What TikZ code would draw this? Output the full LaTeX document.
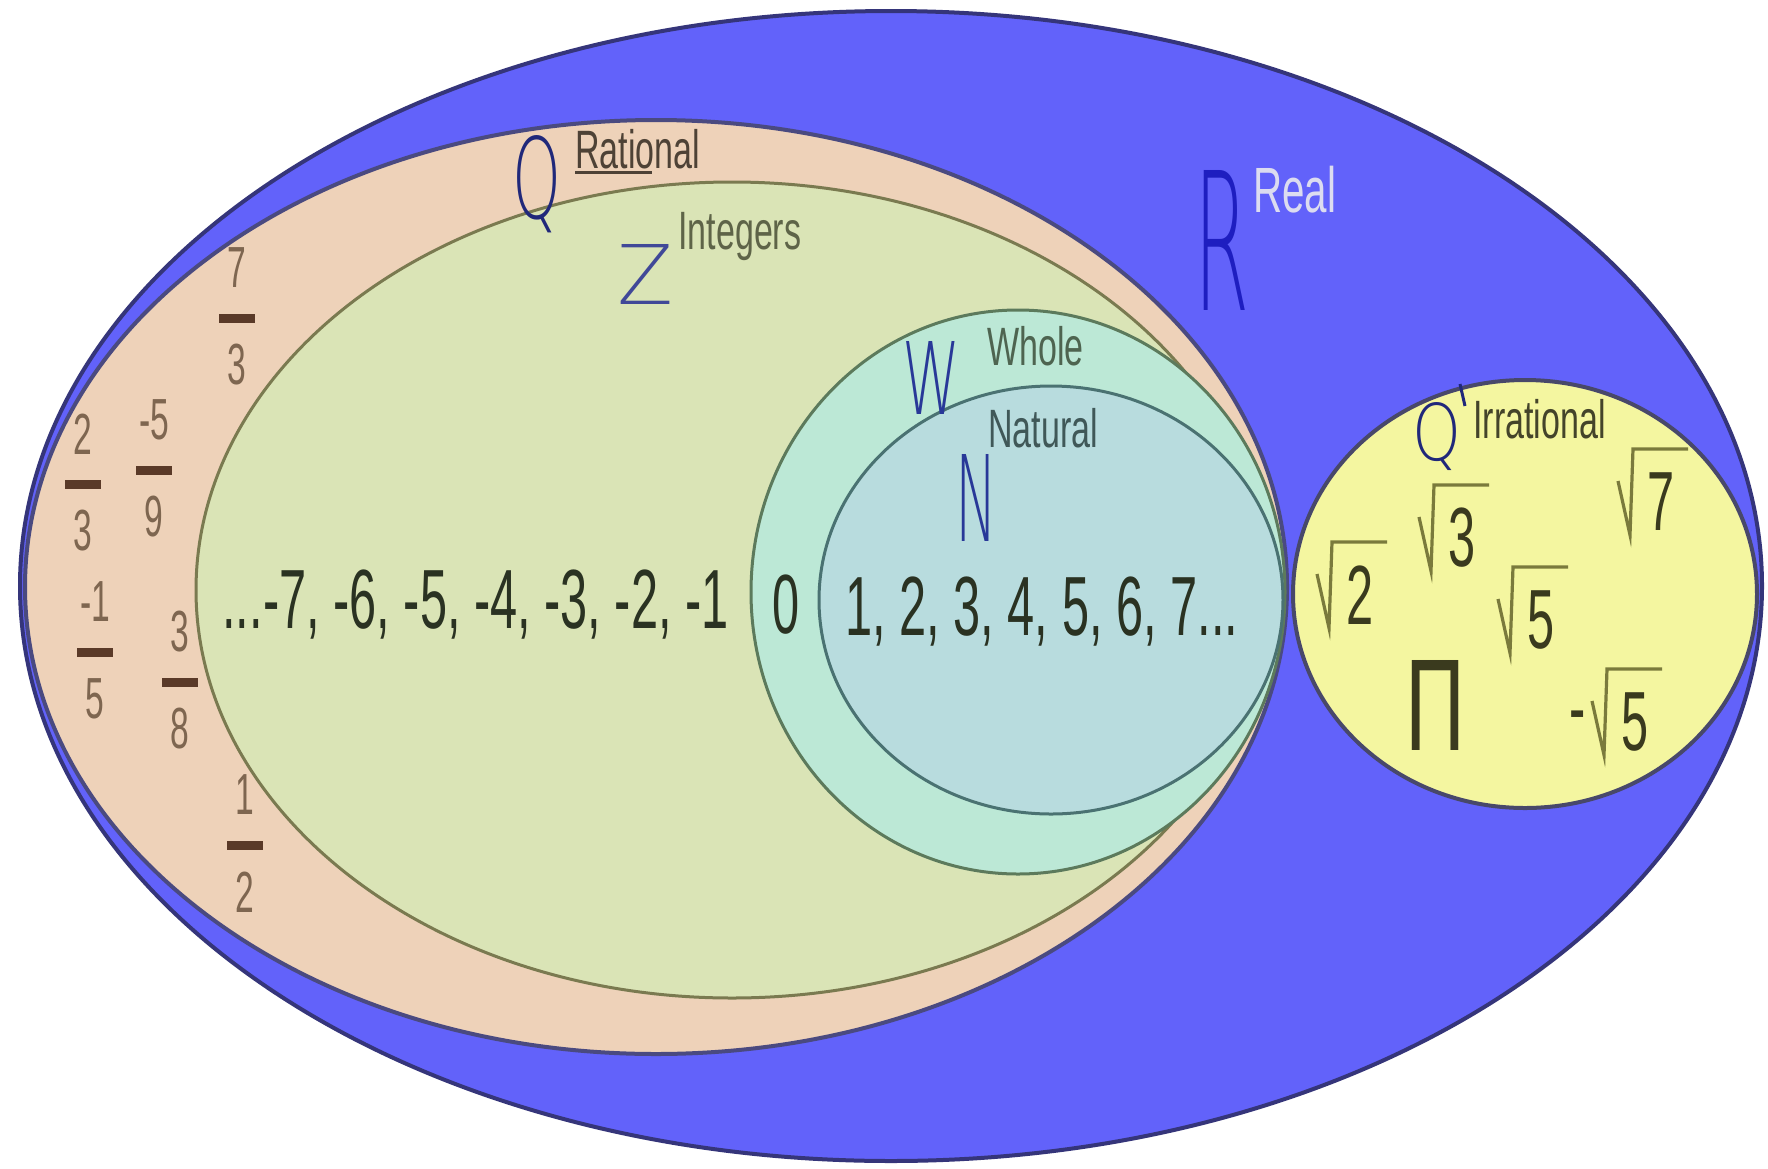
\documentclass[tikz,border=0pt]{standalone}
\usepackage{fontspec}
\usepackage{graphicx}
\setmainfont{Liberation Sans}
\newfontfamily\labfont[FakeStretch=0.63]{Liberation Sans}
\newfontfamily\numfont[FakeStretch=0.58]{Liberation Sans}
\newfontfamily\letfont{DejaVu Sans ExtraLight}
\definecolor{realfill}{HTML}{6262FA}
\definecolor{realedge}{HTML}{35357A}
\definecolor{ratfill}{HTML}{EED2B9}
\definecolor{ratedge}{HTML}{4A4A80}
\definecolor{intfill}{HTML}{DAE4B6}
\definecolor{intedge}{HTML}{7A7A50}
\definecolor{whfill}{HTML}{BCE8D6}
\definecolor{whedge}{HTML}{5C7A5C}
\definecolor{natfill}{HTML}{B8DCDE}
\definecolor{natedge}{HTML}{4A7272}
\definecolor{irrfill}{HTML}{F4F6A0}
\definecolor{irredge}{HTML}{48486A}
\definecolor{numdark}{HTML}{2A3222}
\definecolor{fracnum}{HTML}{7E6650}
\definecolor{fracbar}{HTML}{5A3A28}
\definecolor{radcol}{HTML}{7A7A3C}
\definecolor{irrdig}{HTML}{3A3A1E}
\definecolor{letq}{HTML}{20287A}
\definecolor{letz}{HTML}{404898}
\definecolor{letr}{HTML}{1E1EC0}
\definecolor{letw}{HTML}{283898}
\definecolor{labrat}{HTML}{4E4236}
\definecolor{labint}{HTML}{5E6448}
\definecolor{labwh}{HTML}{4E6450}
\definecolor{labnat}{HTML}{405858}
\definecolor{labirr}{HTML}{44442A}
\definecolor{labreal}{HTML}{DCDCF0}
\tikzset{
  lab/.style={font=\labfont\fontsize{27}{27}\selectfont, inner sep=0, anchor=base west},
  nums/.style={font=\numfont\fontsize{42}{42}\selectfont, inner sep=0, text=numdark},
  fracd/.style={font=\numfont\fontsize{29}{29}\selectfont, inner sep=0, text=fracnum},
  fbar/.style={fill=fracbar, minimum width=18pt, minimum height=4.5pt, inner sep=0},
  big/.style={inner sep=0, font=\letfont},
  radl/.style={draw=radcol, line width=1.6pt, line join=miter},
}
\newcommand\frc[5]{%
  \node[fracd] (#1n) at (#2,#3-50) {#4};
  \node[fbar] (#1b) at (#2,#3) {};
  \node[fracd] (#1d) at (#2,#3+47) {#5};}
\newcommand\rad[4]{%
  \node[nums, text=irrdig] (#1) at (#2,#3) {#4};
  \draw[radl] (#2-43,#3-21) -- (#2-31,#3+33) -- (#2-28,#3-53) -- (#2+27,#3-53);}
\begin{document}
\begin{tikzpicture}[x=0.5pt,y=-0.5pt]
\useasboundingbox (0,0) rectangle (1768,1168);
\fill[white] (0,0) rectangle (1768,1168);
% regions
\filldraw[fill=realfill, draw=realedge, line width=2pt] (891,586) ellipse [x radius=871, y radius=575];
\filldraw[fill=ratfill, draw=ratedge, line width=2pt] (656,587) ellipse [x radius=631, y radius=467];
\filldraw[fill=intfill, draw=intedge, line width=1.5pt] (732,590) ellipse [x radius=536, y radius=408];
\filldraw[fill=whfill, draw=whedge, line width=1.5pt] (1018,592) ellipse [x radius=267, y radius=282];
\filldraw[fill=natfill, draw=natedge, line width=1.5pt] (1051,600) ellipse [x radius=232, y radius=214];
\filldraw[fill=irrfill, draw=irredge, line width=2pt] (1525,594) ellipse [x radius=232, y radius=214];
% big letters
\node[big, text=letq] (Qrat) at (537,184) {\resizebox{24.5pt}{41.5pt}{Q}};
\node[big, text=letz] (Zint) at (645,274) {\resizebox{28pt}{30pt}{Z}};
\node[big, text=letr] (Rreal) at (1222,240) {\resizebox{27.5pt}{70pt}{R}};
\node[big, text=letw] (Wwh) at (931,378) {\resizebox{29pt}{36.5pt}{W}};
\node[big, text=letw] (Nnat) at (976,498) {\resizebox{21pt}{43.5pt}{N}};
\node[big, text=letq] (Qirr) at (1437,437) {\resizebox{24.5pt}{29pt}{Q}};
\draw[letq, line width=1.5pt] (1460,384) -- (1465,406);
% labels
\node[lab, text=labrat] (lrat) at (575,168) {Rational};
\draw[labrat, line width=1.5pt] (575,172) -- (652,172);
\node[lab, text=labint] (lint) at (678,249) {Integers};
\node[lab, text=labreal, font=\labfont\fontsize{32}{32}\selectfont] (lreal) at (1253,212) {Real};
\node[lab, text=labwh] (lwh) at (987,365) {Whole};
\node[lab, text=labnat] (lnat) at (988,447) {Natural};
\node[lab, text=labirr] (lirr) at (1473,438) {Irrational};
% integers
\node[nums, anchor=base west] (neg) at (222,628) {...-7, -6, -5, -4, -3, -2, -1};
\node[nums, anchor=base] (zero) at (786,633) {0};
\node[nums, anchor=base west] (pos) at (845,635) {1, 2, 3, 4, 5, 6, 7...};
% fractions
\frc{fa}{237}{318}{7}{3}
\frc{fb}{83}{484}{2}{3}
\frc{fc}{154}{470}{-5}{9}
\frc{fd}{95}{652}{-1}{5}
\frc{fe}{180}{682}{3}{8}
\frc{ff}{245}{845}{1}{2}
% irrationals
\rad{s2}{1360}{595}{2}
\rad{s3}{1462}{538}{3}
\rad{s7}{1661}{502}{7}
\rad{s5}{1541}{620}{5}
\rad{sm5}{1635}{722}{5}
\node[nums, text=irrdig] (minus) at (1578,724) {-};
\node[inner sep=0, text=irrdig, font=\numfont] (pi) at (1435,705) {\resizebox{30pt}{45pt}{Π}};
\end{tikzpicture}
\end{document}
